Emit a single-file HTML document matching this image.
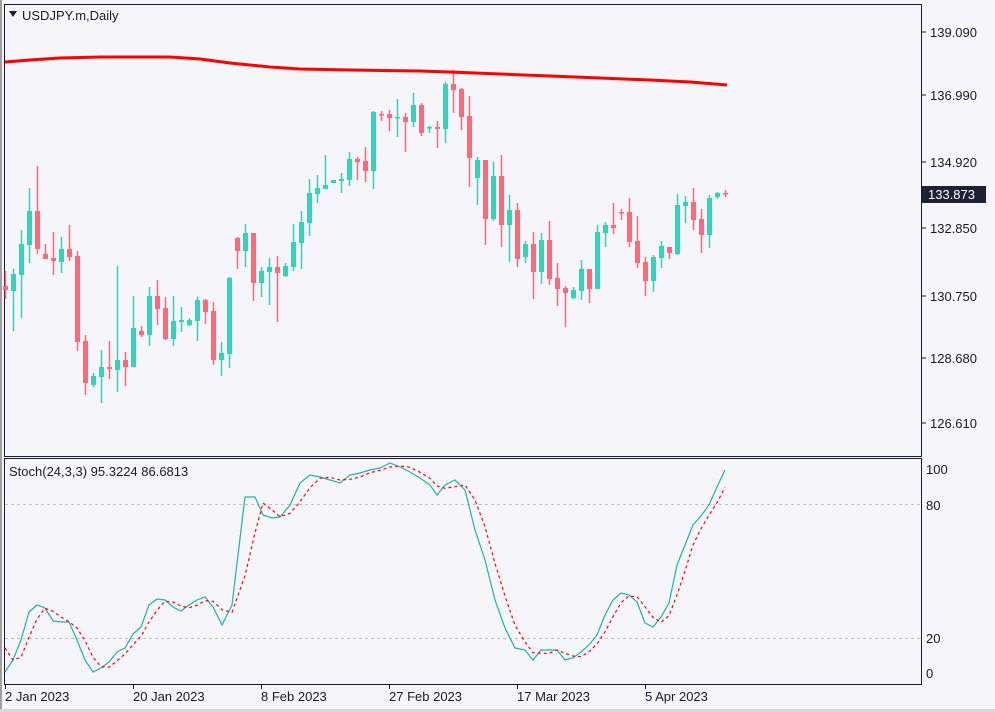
<!DOCTYPE html>
<html><head><meta charset="utf-8"><style>
html,body{margin:0;padding:0;background:#f5f5fa;}
svg{display:block;font-family:"Liberation Sans",Tahoma,sans-serif;}
</style></head><body>
<svg id="s" width="995" height="712" xmlns="http://www.w3.org/2000/svg">
<rect width="995" height="712" fill="#f5f5fa"/>
<rect x="0" y="0" width="2" height="712" fill="#a0a0a0"/>
<rect x="0" y="709" width="995" height="3" fill="#d8d8d8"/>
<rect x="4.5" y="4.5" width="917" height="452" fill="#f5f5fa" stroke="#1a1a3a" stroke-width="1"/>
<rect x="4.5" y="458.5" width="917" height="226" fill="#f5f5fa" stroke="#1a1a3a" stroke-width="1"/>
<g id="g"></g>
<polygon points="9,11 17,11 13,17" fill="#1a1a2a"/>
<text x="22" y="20" font-size="13" fill="#1a1a2a">USDJPY.m,Daily</text>
<text x="9" y="476" font-size="13" fill="#1a1a2a">Stoch(24,3,3) 95.3224 86.6813</text>
<g font-size="13" fill="#1a1a2a">
<text x="930" y="37">139.090</text><text x="930" y="100">136.990</text><text x="930" y="167">134.920</text>
<text x="930" y="233">132.850</text><text x="930" y="301">130.750</text><text x="930" y="363">128.680</text><text x="930" y="428">126.610</text>
<text x="926" y="474">100</text><text x="926" y="510">80</text><text x="926" y="643">20</text><text x="926" y="678">0</text>
<text x="5" y="701">2 Jan 2023</text><text x="133" y="701">20 Jan 2023</text><text x="261" y="701">8 Feb 2023</text>
<text x="389" y="701">27 Feb 2023</text><text x="517" y="701">17 Mar 2023</text><text x="645" y="701">5 Apr 2023</text>
</g>
<g stroke="#1a1a3a" stroke-width="1">
<line x1="922" y1="32" x2="926" y2="32"/><line x1="922" y1="95" x2="926" y2="95"/><line x1="922" y1="162" x2="926" y2="162"/>
<line x1="922" y1="228" x2="926" y2="228"/><line x1="922" y1="296" x2="926" y2="296"/><line x1="922" y1="358" x2="926" y2="358"/><line x1="922" y1="423" x2="926" y2="423"/>
<line x1="5.5" y1="685" x2="5.5" y2="689"/><line x1="133.5" y1="685" x2="133.5" y2="689"/><line x1="261.5" y1="685" x2="261.5" y2="689"/>
<line x1="389.5" y1="685" x2="389.5" y2="689"/><line x1="517.5" y1="685" x2="517.5" y2="689"/><line x1="645.5" y1="685" x2="645.5" y2="689"/>
</g>
<rect x="922" y="186" width="64" height="17" fill="#1c2133"/>
<text x="928" y="199" font-size="13" fill="#ffffff">133.873</text>
</svg>
<script>
var C=[[286,271,299,290],[291,269,331,274],[275,230,318,244],[245,188,263,211],[211,166,254,249],[254,244,259,259],[258,232,275,261],[262,237,273,249],[249,225,261,257],[256,251,351,342],[341,335,395,383],[385,373,387,376],[377,350,403,367],[367,341,379,369],[370,266,392,360],[360,352,386,367],[367,296,367,328],[331,326,337,335],[335,287,346,296],[296,280,325,309],[308,297,340,339],[339,296,346,321],[322,307,332,320],[325,318,326,320],[321,297,341,300],[300,299,324,312],[311,302,365,360],[360,342,376,353],[354,277,368,278],[238,237,269,251],[251,224,267,233],[233,233,301,283],[283,267,297,271],[272,258,305,267],[267,256,322,273],[276,263,277,266],[267,224,271,242],[243,211,269,222],[223,179,236,193],[194,175,203,188],[189,155,189,185],[183,180,183,180],[181,173,193,179],[180,152,186,159],[159,157,180,162],[161,147,182,171],[171,111,189,112],[114,111,121,115],[114,110,131,118],[118,99,137,117],[117,113,152,122],[122,93,127,105],[105,103,136,133],[128,126,133,127],[127,121,148,129],[129,82,143,84],[84,70,113,90],[89,88,130,117],[116,96,187,158],[178,157,205,160],[160,160,245,219],[219,162,221,176],[176,155,247,225],[225,195,262,210],[210,203,267,259],[257,241,263,244],[244,232,299,272],[272,233,284,240],[240,221,285,279],[278,263,306,289],[288,286,327,293],[298,287,299,290],[291,260,300,269],[269,269,303,289],[289,225,289,232],[233,222,247,225],[225,203,234,228],[212,209,220,213],[212,198,247,242],[241,216,268,263],[262,257,296,281],[281,255,292,257],[258,241,268,246],[247,247,259,253],[254,194,255,205],[206,196,223,202],[202,188,230,220],[219,209,253,235],[235,195,248,198],[197,192,199,193],[193,190,197,194]];
var G='#36d1b6',R='#f76b7b',h='';
C.forEach(function(c,i){var x=5+8*i,o=c[0],hi=c[1],lo=c[2],cl=c[3];var up=cl<o;var col=up?G:R;var t=Math.min(o,cl),b=Math.max(o,cl);
h+='<line x1="'+(x+0.5)+'" y1="'+hi+'" x2="'+(x+0.5)+'" y2="'+lo+'" stroke="'+col+'" stroke-width="1.5"/>';
h+='<rect x="'+(x-2)+'" y="'+t+'" width="5" height="'+Math.max(b-t,1.5)+'" fill="'+col+'"/>';});
h+='<polyline fill="none" stroke="#ff0000" stroke-width="3" points="5,62 30,60 60,58 100,57 170,57 200,59 230,63 270,67 300,69 350,70 420,71 450,72 500,74 550,76 600,78 650,80 690,82 727,85"/>';
h+='<line x1="5" y1="504.5" x2="921" y2="504.5" stroke="#c0c0c0" stroke-dasharray="3,3"/><line x1="5" y1="638.5" x2="921" y2="638.5" stroke="#c0c0c0" stroke-dasharray="3,3"/>';
var P=[[5,672],[13,660],[21,640],[29,612],[37,605],[45,608],[53,621],[61,622],[69,622],[77,640],[85,660],[93,672],[101,668],[109,662],[117,652],[125,648],[133,634],[141,627],[149,605],[157,599],[165,600],[173,607],[181,611],[189,605],[197,600],[205,597],[213,607],[222,625],[232,605],[245,497],[255,497],[263,515],[272,518],[280,517],[290,505],[300,483],[310,475],[320,477],[330,480],[340,483],[350,475],[360,473],[370,470],[380,468],[390,463],[400,467],[410,472],[420,478],[430,485],[437,495],[445,485],[455,480],[465,490],[475,530],[485,560],[495,600],[505,628],[515,648],[525,650],[533,660],[541,650],[549,650],[557,650],[565,660],[573,658],[581,652],[589,645],[597,635],[605,615],[613,600],[621,593],[629,595],[637,602],[645,623],[653,627],[661,617],[669,603],[677,565],[685,545],[693,525],[701,516],[709,505],[717,487],[725,470]];
h+='<polyline fill="none" stroke="#20b2aa" stroke-width="1.2" points="'+P.map(function(p){return p.join(',');}).join(' ')+'"/>';
var sig=P.map(function(p,i){var a=P[Math.max(0,i-2)][1],b=P[Math.max(0,i-1)][1];return [p[0],(a+b+p[1])/3];});
sig[0][1]=648;sig[1][1]=660;
h+='<polyline fill="none" stroke="#ff0000" stroke-width="1.2" stroke-dasharray="3,3" points="'+sig.map(function(p){return p[0]+','+p[1].toFixed(1);}).join(' ')+'"/>';
document.getElementById('g').innerHTML=h;
</script>
</body></html>
